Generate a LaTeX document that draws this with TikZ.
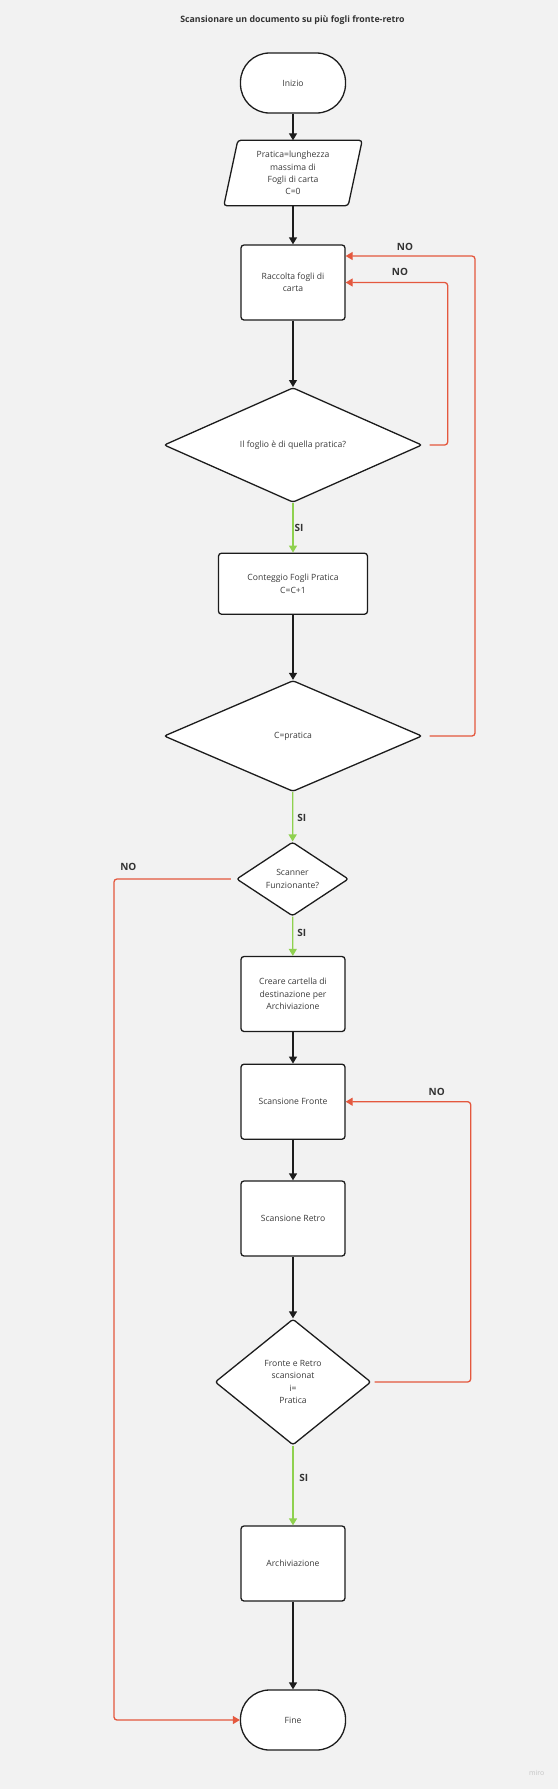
\documentclass[tikz,border=0pt]{standalone}
\usepackage{fontspec}
\setmainfont{Open Sans}
\usetikzlibrary{shapes.geometric,arrows.meta,backgrounds}
\definecolor{bgC}{HTML}{F2F2F2}
\definecolor{lineC}{HTML}{1C1C1C}
\definecolor{txtC}{HTML}{3A3A3A}
\definecolor{redC}{HTML}{E4583E}
\definecolor{greenC}{HTML}{8FD14F}
\definecolor{labC}{HTML}{333333}
\definecolor{miroC}{HTML}{C4C4C4}
\tikzset{
  nodefont/.style={font=\fontsize{8.6}{12.3}\selectfont, text=txtC, align=center},
  box/.style={nodefont, draw=lineC, line width=1.3pt, fill=white, rounded corners=3pt, inner sep=0pt},
  terminal/.style={box, rounded corners=29pt, minimum width=105pt, minimum height=60pt},
  procbox/.style={box, minimum width=104pt, minimum height=75pt},
  decision/.style={nodefont, diamond, aspect=1, draw=lineC, line width=1.3pt, fill=white, rounded corners=2.5pt, inner sep=0pt},
  flow/.style={draw=lineC, line width=1.3pt, -{Triangle[width=8pt,length=7pt]}},
  yes/.style={draw=greenC, line width=1.3pt, -{Triangle[width=8pt,length=7pt]}},
  noarrow/.style={draw=redC, line width=1.3pt, rounded corners=3pt, -{Triangle[width=8pt,length=7pt]}},
  lab/.style={font=\bfseries\fontsize{10}{12}\selectfont, text=labC, inner sep=0pt},
}
\begin{document}
\begin{tikzpicture}[x=1pt,y=-1pt]
\begin{pgfonlayer}{background}
\fill[bgC] (0,0) rectangle (558,1789);
\end{pgfonlayer}
\useasboundingbox (0,0) rectangle (558,1789);

\node[font=\bfseries\fontsize{8.8}{10}\selectfont, text=labC] (title) at (292.5,20) {Scansionare un documento su più fogli fronte-retro};

\node[terminal] (start) at (293,83) {Inizio};
\node[nodefont, minimum width=124pt, minimum height=65pt, inner sep=0pt] (init) at (293,173)
  {Pratica=lunghezza\\massima di\\Fogli di carta\\C=0};
\begin{pgfonlayer}{background}
\draw[draw=lineC, line width=1.3pt, fill=white, rounded corners=3pt]
  ([xshift=7pt]init.north west) -- ([xshift=7pt]init.north east) --
  ([xshift=-7pt]init.south east) -- ([xshift=-7pt]init.south west) -- cycle;
\end{pgfonlayer}
\node[procbox] (raccolta) at (293,282.5) {Raccolta fogli di\\carta};
\node[decision, minimum width=258pt, minimum height=111pt] (d1) at (293,445) {Il foglio è di quella pratica?};
\node[box, minimum width=149pt, minimum height=61pt] (conteggio) at (293,583.7) {Conteggio Fogli Pratica\\C=C+1};
\node[decision, minimum width=258pt, minimum height=111pt] (d2) at (293,736) {C=pratica};
\node[decision, minimum width=112pt, minimum height=74pt] (scanner) at (292.5,879) {Scanner\\Funzionante?};
\node[procbox] (creare) at (293,994) {Creare cartella di\\destinazione per\\Archiviazione};
\node[procbox] (fronte) at (293,1101.7) {Scansione Fronte};
\node[procbox] (retro) at (293,1218.5) {Scansione Retro};
\node[decision, minimum width=156pt, minimum height=126pt] (d3) at (293,1382) {Fronte e Retro\\scansionat\\i=\\Pratica};
\node[procbox] (archiv) at (293,1563.5) {Archiviazione};
\node[terminal] (fine) at (293,1720) {Fine};

% main flow
\draw[flow] (start) -- (init);
\draw[flow] (init) -- (raccolta);
\draw[flow] (raccolta) -- (d1);
\draw[yes] (d1) -- (conteggio);
\draw[flow] (conteggio) -- (d2);
\draw[yes] (d2) -- (scanner);
\draw[yes] (scanner) -- (creare);
\draw[flow] (creare) -- (fronte);
\draw[flow] (fronte) -- (retro);
\draw[flow] (retro) -- (d3);
\draw[yes] (d3) -- (archiv);
\draw[flow] (archiv) -- (fine);

\node[lab] (si1) at (299,527.7) {SI};
\node[lab] (si2) at (301.7,818.3) {SI};
\node[lab] (si3) at (301.7,932.7) {SI};
\node[lab] (si4) at (303.7,1477.7) {SI};

% NO loops
\coordinate (c1) at (447.7,445);
\draw[noarrow] ([xshift=7pt]d1.east) -- (c1) |- (raccolta.east);
\node[lab] (no1) at (400,272) {NO};

\coordinate (c2) at (475,256);
\draw[noarrow] ([xshift=7pt]d2.east) -- (d2.east -| c2) -- (c2) -- (c2 -| raccolta.east);
\node[lab] (no2) at (405,247) {NO};

\coordinate (c3) at (114,879);
\draw[noarrow] ([xshift=-5pt]scanner.west) -- (c3) |- (fine.west);
\node[lab] (no3) at (128.3,866.7) {NO};

\coordinate (c4) at (470.7,1382);
\draw[noarrow] ([xshift=3pt]d3.east) -- (c4) |- (fronte.east);
\node[lab] (no4) at (436.7,1091.7) {NO};

\node[font=\fontsize{7}{8}\selectfont, text=miroC] (miro) at (536.7,1773.3) {miro};
\end{tikzpicture}
\end{document}
